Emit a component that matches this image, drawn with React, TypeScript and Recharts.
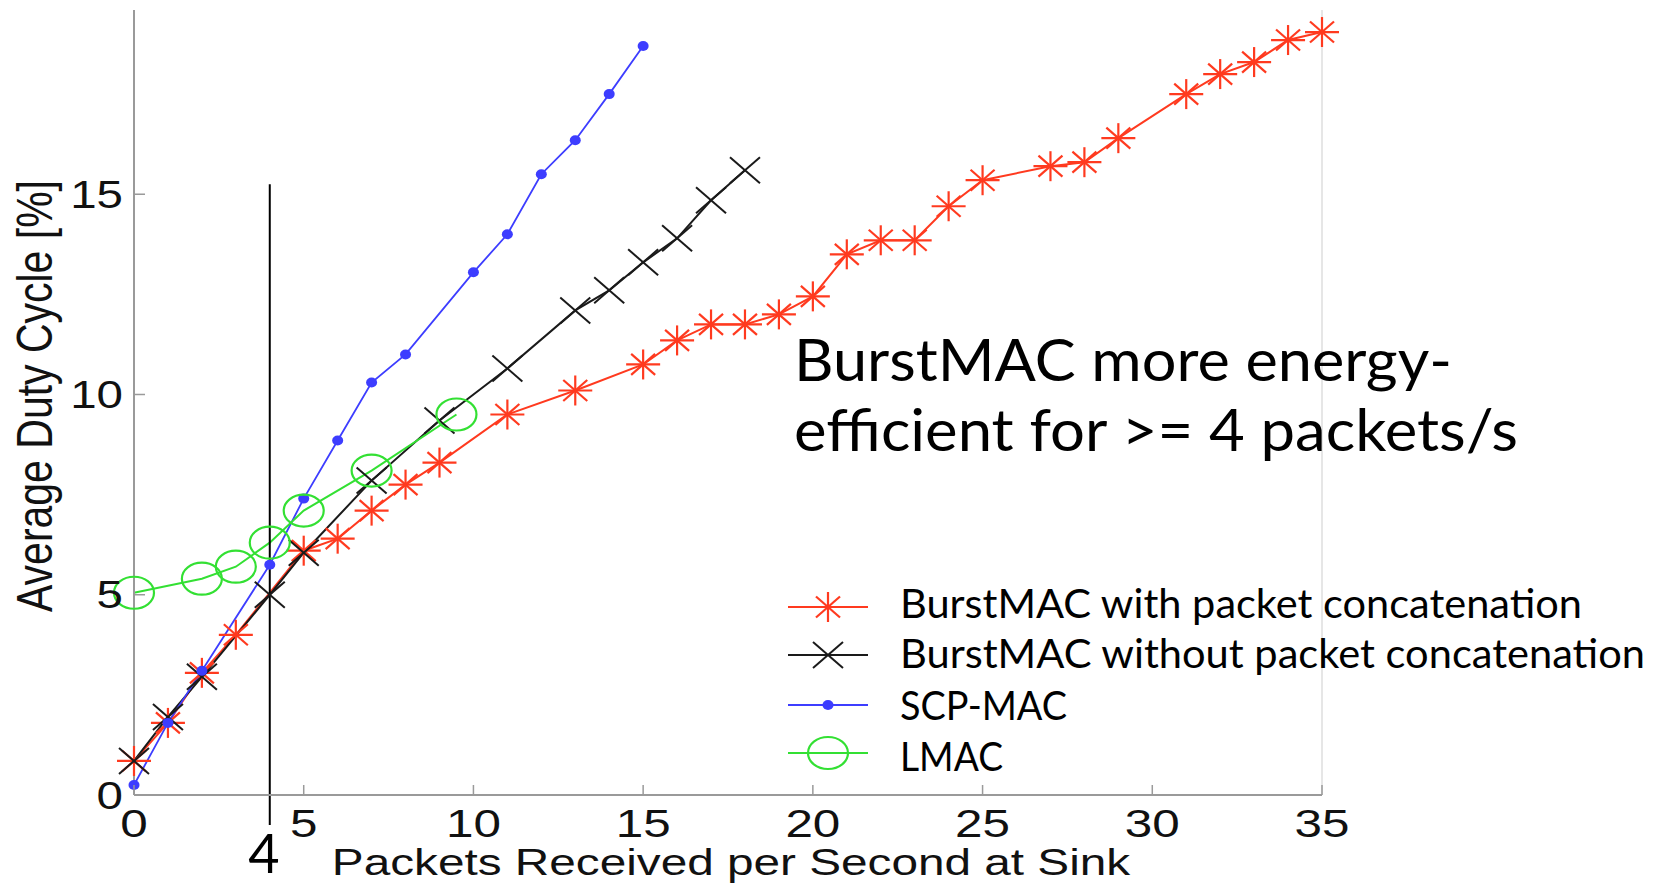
import React from "react";
import { LineChart, Line, XAxis, YAxis, Legend, ReferenceLine } from "recharts";

// values
const concatX = [0, 1, 2, 3, 5, 6, 7, 8, 9, 11, 13, 15, 16, 17, 18, 19, 20, 21, 22, 23, 24, 25, 27, 28, 29, 31, 32, 33, 34, 35];
const concatY = [0.85, 1.8, 3.05, 4.0, 6.1, 6.4, 7.1, 7.75, 8.3, 9.5, 10.1, 10.75, 11.35, 11.75, 11.75, 12.0, 12.45, 13.5, 13.85, 13.85, 14.7, 15.35, 15.7, 15.8, 16.4, 17.5, 18.0, 18.3, 18.85, 19.05];

const plainX = [0, 1, 2, 4, 5, 7, 9, 11, 13, 14, 15, 16, 17, 18];
const plainY = [0.85, 1.95, 2.95, 5.0, 6.05, 7.85, 9.35, 10.65, 12.1, 12.6, 13.3, 13.9, 14.85, 15.6];

const scpX = [0, 1, 2, 4, 5, 6, 7, 8, 10, 11, 12, 13, 14, 15];
const scpY = [0.25, 1.8, 3.1, 5.75, 7.4, 8.85, 10.3, 11.0, 13.05, 14.0, 15.5, 16.35, 17.5, 18.7];

const lmacX = [0, 2, 3, 4, 5, 7, 9.5];
const lmacY = [5.05, 5.4, 5.7, 6.3, 7.1, 8.1, 9.5];

const seriesNames = [
  "BurstMAC with packet concatenation",
  "BurstMAC without packet concatenation",
  "SCP-MAC",
  "LMAC",
];
const xTicks = [0, 5, 10, 15, 20, 25, 30, 35];
const yTicks = [0, 5, 10, 15];
const threshold = 4;

const RED = "#ff3a1f";
const BLACK = "#1a1a1a";
const BLUE = "#3d3dff";
const GREEN = "#33e033";
const AXIS = "#9a9a9a";
const SANS = "'Liberation Sans', Arial, sans-serif";
const LATO = "Lato, 'Open Sans', sans-serif";

const toPoints = (xs: number[], ys: number[]) => xs.map((x, i) => ({ x, y: ys[i] }));
const concatData = toPoints(concatX, concatY);
const plainData = toPoints(plainX, plainY);
const scpData = toPoints(scpX, scpY);
const lmacData = toPoints(lmacX, lmacY);

function Star({ cx, cy }: { cx: number; cy: number }) {
  return (
    <g stroke={RED} strokeWidth={2.2}>
      <line x1={cx - 17} y1={cy} x2={cx + 17} y2={cy} />
      <line x1={cx} y1={cy - 15} x2={cx} y2={cy + 15} />
      <line x1={cx - 12} y1={cy - 10.5} x2={cx + 12} y2={cy + 10.5} />
      <line x1={cx - 12} y1={cy + 10.5} x2={cx + 12} y2={cy - 10.5} />
    </g>
  );
}

function Cross({ cx, cy }: { cx: number; cy: number }) {
  return (
    <g stroke={BLACK} strokeWidth={2}>
      <line x1={cx - 15} y1={cy - 13} x2={cx + 15} y2={cy + 13} />
      <line x1={cx - 15} y1={cy + 13} x2={cx + 15} y2={cy - 13} />
    </g>
  );
}

function Dot({ cx, cy }: { cx: number; cy: number }) {
  return <ellipse cx={cx} cy={cy} rx={5.5} ry={5} fill={BLUE} />;
}

function Ring({ cx, cy }: { cx: number; cy: number }) {
  return <ellipse cx={cx} cy={cy} rx={20} ry={16} fill="none" stroke={GREEN} strokeWidth={2.2} />;
}

const markers: Record<string, any> = {
  [seriesNames[0]]: Star,
  [seriesNames[1]]: Cross,
  [seriesNames[2]]: Dot,
  [seriesNames[3]]: Ring,
};

// legend row geometry (relative to legend box)
const legendIconY = [27, 75, 125, 173];
const legendTextY = [38, 88, 140, 191];
const legendTextW = [682, 745, 167, 103];

function XTick({ x, y, payload }: any) {
  return (
    <g>
      <line x1={x} x2={x} y1={y} y2={y - 10} stroke={AXIS} strokeWidth={1.5} />
      <text
        transform={`translate(${x},${y + 42}) scale(1.3,1)`}
        textAnchor="middle"
        fontSize={38}
        fontFamily={SANS}
        fill="#111"
      >
        {payload.value}
      </text>
    </g>
  );
}

function YTick({ x, y, payload }: any) {
  return (
    <g>
      <line x1={x} x2={x + 11} y1={y} y2={y} stroke={AXIS} strokeWidth={1.5} />
      <text
        transform={`translate(${x - 11},${y + 13.5}) scale(1.25,1)`}
        textAnchor="end"
        fontSize={38}
        fontFamily={SANS}
        fill="#111"
      >
        {payload.value}
      </text>
    </g>
  );
}

function LegendBox({ payload }: any) {
  const rows = (payload || [])
    .filter((p: any) => markers[p.value])
    .sort((a: any, b: any) => seriesNames.indexOf(a.value) - seriesNames.indexOf(b.value));
  return (
    <svg width={880} height={215} style={{ overflow: "visible" }}>
      {rows.map((entry: any, i: number) => {
        const Mark = markers[entry.value];
        const cy = legendIconY[i];
        return (
          <g key={entry.value}>
            <line x1={8} x2={88} y1={cy} y2={cy} stroke={entry.color} strokeWidth={2.2} />
            <Mark cx={48} cy={cy} />
            <text
              x={120}
              y={legendTextY[i]}
              fontFamily={LATO}
              fontSize={41}
              fill="#000"
              textLength={legendTextW[i]}
              lengthAdjust="spacingAndGlyphs"
            >
              {entry.value}
            </text>
          </g>
        );
      })}
    </svg>
  );
}

export default function App() {
  return (
    <div style={{ position: "absolute", left: 0, top: 0, width: 1656, height: 887, background: "#fff" }}>
      <LineChart width={1656} height={887} margin={{ top: 10, right: 334, bottom: 32, left: 34 }}>
        <XAxis
          type="number"
          dataKey="x"
          domain={[0, 35]}
          ticks={xTicks}
          interval={0}
          height={60}
          tickLine={false}
          tickSize={0}
          tickMargin={0}
          tick={(p: any) => <XTick {...p} />}
          axisLine={{ stroke: AXIS, strokeWidth: 2 }}
          label={{
            content: () => (
              <text
                transform="translate(731,875) scale(1.29,1)"
                textAnchor="middle"
                fontSize={37}
                fontFamily={SANS}
                fill="#111"
              >
                Packets Received per Second at Sink
              </text>
            ),
          }}
        />
        <YAxis
          type="number"
          domain={[0, 19.6]}
          ticks={yTicks}
          interval={0}
          width={100}
          tickLine={false}
          tickSize={0}
          tickMargin={0}
          tick={(p: any) => <YTick {...p} />}
          axisLine={{ stroke: AXIS, strokeWidth: 2 }}
          label={{
            content: () => (
              <text
                transform="translate(52,396) scale(1.2,1) rotate(-90)"
                textAnchor="middle"
                fontSize={41}
                fontFamily={SANS}
                fill="#111"
              >
                Average Duty Cycle [%]
              </text>
            ),
          }}
        />
        <ReferenceLine x={35} stroke="#dedede" strokeWidth={1.5} />
        <Legend
          layout="horizontal"
          align="center"
          verticalAlign="middle"
          content={(p: any) => <LegendBox {...p} />}
          wrapperStyle={{ left: 780, top: 580, width: 880, height: 215 }}
        />
        <Line
          data={concatData}
          dataKey="y"
          name={seriesNames[0]}
          stroke={RED}
          strokeWidth={2}
          dot={(p: any) => <Star key={p.index} cx={p.cx} cy={p.cy} />}
          activeDot={false}
          isAnimationActive={false}
        />
        <Line
          data={plainData}
          dataKey="y"
          name={seriesNames[1]}
          stroke={BLACK}
          strokeWidth={2}
          dot={(p: any) => <Cross key={p.index} cx={p.cx} cy={p.cy} />}
          activeDot={false}
          isAnimationActive={false}
        />
        <Line
          data={scpData}
          dataKey="y"
          name={seriesNames[2]}
          stroke={BLUE}
          strokeWidth={1.8}
          dot={(p: any) => <Dot key={p.index} cx={p.cx} cy={p.cy} />}
          activeDot={false}
          isAnimationActive={false}
        />
        <Line
          data={lmacData}
          dataKey="y"
          name={seriesNames[3]}
          stroke={GREEN}
          strokeWidth={2}
          dot={(p: any) => <Ring key={p.index} cx={p.cx} cy={p.cy} />}
          activeDot={false}
          isAnimationActive={false}
        />
        <ReferenceLine
          segment={[
            { x: threshold, y: -0.75 },
            { x: threshold, y: 15.25 },
          ]}
          stroke="#000"
          strokeWidth={2}
          ifOverflow="visible"
        />
      </LineChart>
      <svg
        width={1656}
        height={887}
        style={{ position: "absolute", left: 0, top: 0, pointerEvents: "none" }}
      >
        <text x={264} y={873} textAnchor="middle" fontFamily={LATO} fontSize={54} fill="#000">
          {threshold}
        </text>
        <text x={794} y={381} fontFamily={LATO} fontSize={58} fill="#000" textLength={658} lengthAdjust="spacingAndGlyphs">
          BurstMAC more energy-
        </text>
        <text x={794} y={451} fontFamily={LATO} fontSize={58} fill="#000" textLength={724} lengthAdjust="spacingAndGlyphs">
          efficient for &gt;= 4 packets/s
        </text>
      </svg>
    </div>
  );
}
